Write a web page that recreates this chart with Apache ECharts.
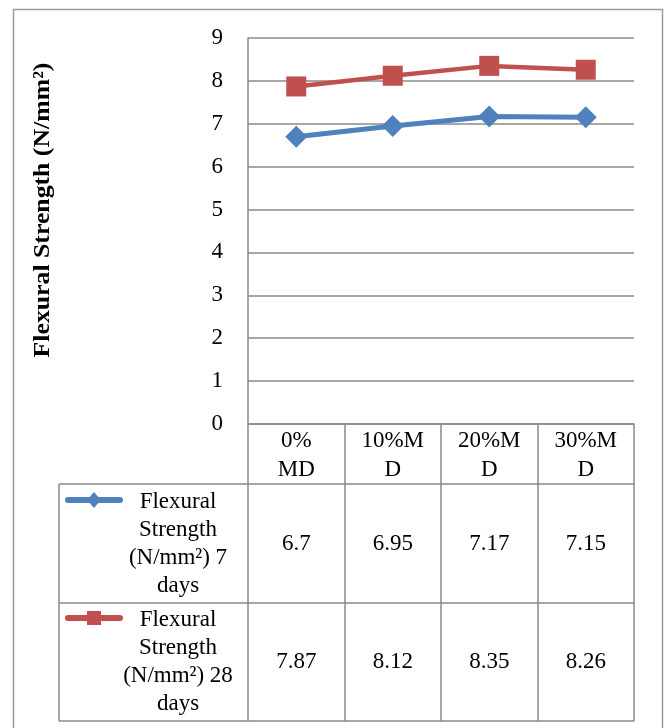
<!DOCTYPE html>
<html><head><meta charset="utf-8">
<script src="https://cdn.jsdelivr.net/npm/echarts@6/dist/echarts.min.js"></script>
<style>html,body{margin:0;padding:0;background:#fff}#c{width:664px;height:728px}</style>
</head><body><div id="c"></div>
<script>
// ---- data ----
const categories = ['0%\nMD', '10%M\nD', '20%M\nD', '30%M\nD'];
const days7 = [6.7, 6.95, 7.17, 7.15];
const days28 = [7.87, 8.12, 8.35, 8.26];
const seriesNames = ['Flexural Strength (N/mm²) 7 days', 'Flexural Strength (N/mm²) 28 days'];
const legendLines = [['Flexural', 'Strength', '(N/mm²) 7', 'days'], ['Flexural', 'Strength', '(N/mm²) 28', 'days']];
const yTitle = 'Flexural Strength (N/mm²)';
const yMin = 0, yMax = 9, yStep = 1;

// ---- style ----
const FONT = 'Liberation Serif';
const FS = 23;
const GRAY = '#8a8a8a';
const BLUE = '#4F81BD';
const RED = '#C0504D';

const chart = echarts.init(document.getElementById('c'), null, {renderer: 'canvas'});

const baseX = {
  type: 'category', position: 'bottom', boundaryGap: true, gridIndex: 0,
  axisLine: {show: true, lineStyle: {color: GRAY, width: 1.5}},
  splitLine: {show: false}
};
const lbl = (margin, lh) => ({interval: 0, fontFamily: FONT, fontSize: FS, color: '#000', lineHeight: lh, margin: margin});

function legendGraphics(idx, cy, color, symbol) {
  const g = [];
  g.push({type: 'line', shape: {x1: 68, y1: cy, x2: 120, y2: cy}, style: {stroke: color, lineWidth: 6, lineCap: 'round'}, silent: true});
  if (symbol === 'diamond') {
    g.push({type: 'polygon', shape: {points: [[94, cy - 8], [101, cy], [94, cy + 8], [87, cy]]}, style: {fill: color}, silent: true});
  } else {
    g.push({type: 'rect', shape: {x: 87, y: cy - 7, width: 14, height: 14}, style: {fill: color}, silent: true});
  }
  return g;
}

const graphics = [
  // outer chart border
  {type: 'rect', shape: {x: 13.5, y: 9.5, width: 649, height: 740}, style: {fill: 'none', stroke: '#9a9a9a', lineWidth: 1.5}, silent: true},
  // legend column of the data table
  {type: 'line', shape: {x1: 59, y1: 484, x2: 248, y2: 484}, style: {stroke: GRAY, lineWidth: 1.5}, silent: true},
  {type: 'line', shape: {x1: 59, y1: 603, x2: 248, y2: 603}, style: {stroke: GRAY, lineWidth: 1.5}, silent: true},
  {type: 'line', shape: {x1: 59, y1: 721, x2: 634, y2: 721}, style: {stroke: GRAY, lineWidth: 1.5}, silent: true},
  {type: 'line', shape: {x1: 59, y1: 484, x2: 59, y2: 721}, style: {stroke: GRAY, lineWidth: 1.5}, silent: true},
  // y title
  {type: 'text', x: 43, y: 210, rotation: Math.PI / 2, scaleX: 1.12,
   style: {text: yTitle, font: 'bold ' + FS + 'px "' + FONT + '"', fill: '#000', textAlign: 'center', textVerticalAlign: 'middle'}, silent: true},
  // legend texts
  {type: 'text', x: 178, y: 543.5, style: {text: legendLines[0].join('\n'), font: FS + 'px "' + FONT + '"', lineHeight: 28, fill: '#000', textAlign: 'center', textVerticalAlign: 'middle'}, silent: true},
  {type: 'text', x: 178, y: 662, style: {text: legendLines[1].join('\n'), font: FS + 'px "' + FONT + '"', lineHeight: 28, fill: '#000', textAlign: 'center', textVerticalAlign: 'middle'}, silent: true},
  ...legendGraphics(0, 500, BLUE, 'diamond'),
  ...legendGraphics(1, 618, RED, 'rect')
];

const option = {
  animation: false,
  backgroundColor: '#fff',
  grid: {left: 248, top: 38, width: 386, height: 386, containLabel: false},
  xAxis: [
    Object.assign({}, baseX, {data: categories, axisTick: {show: true, length: 60, lineStyle: {color: GRAY, width: 1.5}}, axisLabel: lbl(2, 29)}),
    Object.assign({}, baseX, {data: days7.map(String), offset: 60, axisTick: {show: true, length: 119, lineStyle: {color: GRAY, width: 1.5}}, axisLabel: lbl(48, 24)}),
    Object.assign({}, baseX, {data: days28.map(String), offset: 179, axisTick: {show: true, length: 118, lineStyle: {color: GRAY, width: 1.5}}, axisLabel: lbl(47, 24)})
  ],
  yAxis: {
    type: 'value', min: yMin, max: yMax, interval: yStep,
    axisLine: {show: true, lineStyle: {color: GRAY, width: 1.5}},
    axisTick: {show: false},
    splitLine: {show: true, lineStyle: {color: GRAY, width: 1.5}},
    axisLabel: {fontFamily: FONT, fontSize: FS, color: '#000', margin: 25}
  },
  series: [
    {name: seriesNames[0], type: 'line', xAxisIndex: 0, data: days7, symbol: 'diamond', symbolSize: [22, 22],
     lineStyle: {color: BLUE, width: 5}, itemStyle: {color: BLUE}},
    {name: seriesNames[1], type: 'line', xAxisIndex: 0, data: days28, symbol: 'rect', symbolSize: 20,
     lineStyle: {color: RED, width: 4.5}, itemStyle: {color: RED}}
  ],
  graphic: graphics
};
chart.setOption(option);
</script>
</body></html>
